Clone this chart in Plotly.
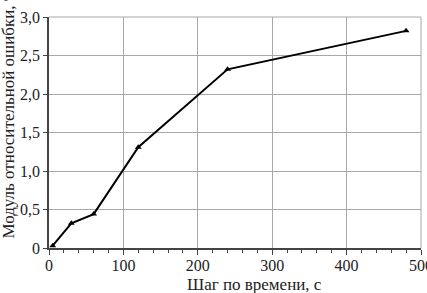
import plotly.graph_objects as go

step_s = [5, 30, 60, 120, 240, 480]
rel_error_pct = [0.03, 0.32, 0.44, 1.31, 2.32, 2.82]

y_tickvals = [0, 0.5, 1.0, 1.5, 2.0, 2.5, 3.0]
y_ticktext = ["0", "0,5", "1,0", "1,5", "2,0", "2,5", "3,0"]
x_tickvals = [0, 100, 200, 300, 400, 500]
x_ticktext = ["0", "100", "200", "300", "400", "500"]

x_title = "Шаг по времени, с"
y_title = "Модуль относительной ошибки, %"

font_family = "Liberation Serif"

fig = go.Figure()
fig.add_trace(go.Scatter(
    x=step_s, y=rel_error_pct,
    mode="lines+markers",
    line=dict(color="black", width=2),
    marker=dict(symbol="triangle-up", size=6, color="black"),
    showlegend=False, hoverinfo="skip",
))

fig.update_layout(
    width=427, height=293,
    margin=dict(l=49, r=6, t=17, b=45, autoexpand=False),
    paper_bgcolor="white", plot_bgcolor="white",
    font=dict(family=font_family, size=16, color="#222"),
    xaxis=dict(
        range=[0, 500], tickvals=x_tickvals, ticktext=x_ticktext,
        showgrid=True, gridcolor="#a8a8a8", gridwidth=1,
        showline=True, linecolor="#444", linewidth=1.5, mirror=False,
        ticks="outside", ticklen=5, tickcolor="#444",
        minor=dict(dtick=20, ticks="outside", ticklen=3, tickcolor="#444", showgrid=False),
        zeroline=False, fixedrange=True, automargin=False,
        ticklabeloverflow="allow", ticklabelstandoff=-3,
    ),
    yaxis=dict(
        range=[0, 3.0], tickvals=y_tickvals, ticktext=y_ticktext,
        showgrid=True, gridcolor="#a8a8a8", gridwidth=1,
        showline=True, linecolor="#444", linewidth=1.5,
        ticks="outside", ticklen=4, tickcolor="#444",
        zeroline=False, fixedrange=True, automargin=False,
        ticklabeloverflow="allow",
    ),
    shapes=[
        dict(type="line", xref="paper", yref="paper", x0=0, x1=1, y0=1, y1=1,
             line=dict(color="#a8a8a8", width=1)),
        dict(type="line", xref="paper", yref="paper", x0=1, x1=1, y0=0, y1=1,
             line=dict(color="#a8a8a8", width=1)),
    ],
    annotations=[
        dict(text=x_title, xref="paper", yref="paper", x=0.5, y=0,
             yshift=-36, yanchor="middle", xshift=19, showarrow=False,
             font=dict(family=font_family, size=17, color="#222")),
        dict(text=y_title, xref="paper", yref="paper", x=0, y=0.5,
             xshift=-41, xanchor="center", yanchor="middle", yshift=19,
             textangle=-90, showarrow=False,
             font=dict(family=font_family, size=17, color="#222")),
    ],
)

fig.write_html("out.html", config={"displayModeBar": False},
               post_script="document.body.style.margin='0';document.body.style.overflow='hidden';")
